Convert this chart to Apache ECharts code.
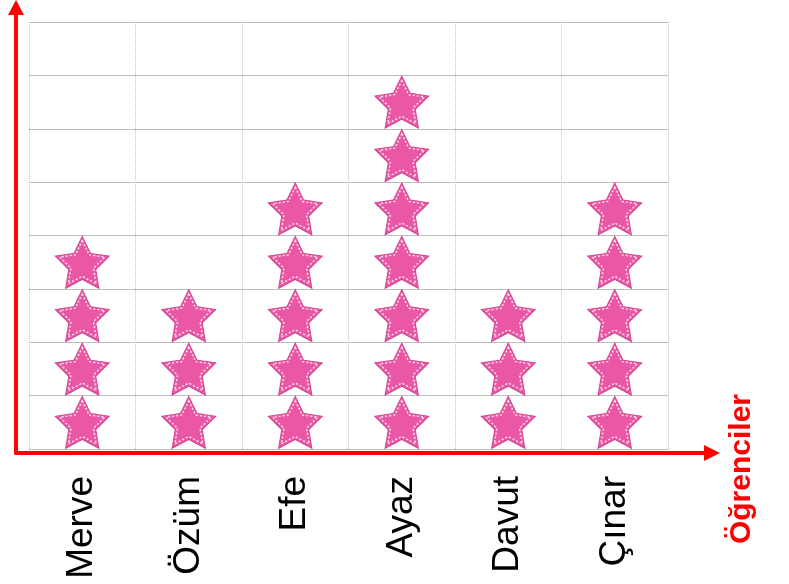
<!DOCTYPE html>
<html>
<head>
<meta charset="utf-8">
<script src="https://cdn.jsdelivr.net/npm/echarts@6/dist/echarts.min.js"></script>
<style>html,body{margin:0;padding:0;background:#fff}#c{width:789px;height:584px}</style>
</head>
<body>
<div id="c"></div>
<script>
const categories = ['Merve', 'Özüm', 'Efe', 'Ayaz', 'Davut', 'Çınar'];
const starCounts = [4, 3, 5, 7, 3, 5];
const yTicks = [0, 1, 2, 3, 4, 5, 6, 7, 8];
const axisTitle = 'Öğrenciler';

function starPath(inner) {
  const pts = [];
  for (let k = 0; k < 10; k++) {
    const a = (-90 + 36 * k) * Math.PI / 180;
    const r = k % 2 === 0 ? 50 : 50 * inner;
    pts.push((50 + r * Math.cos(a)).toFixed(2) + ' ' + (50 + r * Math.sin(a)).toFixed(2));
  }
  return 'path://M' + pts.join(' L') + ' Z';
}
const STAR = starPath(0.5);

const starData = [];
categories.forEach((c, i) => {
  for (let k = 0; k < starCounts[i]; k++) starData.push([c, k + 0.5]);
});

const chart = echarts.init(document.getElementById('c'));
chart.setOption({
  animation: false,
  grid: [
    { left: 29, right: 121, top: 22, bottom: 135 },
    { left: 16, right: 85, top: 15, bottom: 131 }
  ],
  xAxis: [
    {
      gridIndex: 0, type: 'category', data: categories,
      axisLine: { show: false }, axisTick: { show: false },
      axisLabel: { rotate: 90, margin: 27, fontSize: 37, color: '#000', fontFamily: 'Liberation Sans' },
      splitLine: { show: true, lineStyle: { color: '#c4c4c4', type: 'dotted', width: 1 } }
    },
    {
      gridIndex: 1, type: 'value', min: 0, max: 1,
      axisLabel: { show: false }, axisTick: { show: false }, splitLine: { show: false },
      axisLine: { show: true, lineStyle: { color: '#ff0000', width: 4 },
        symbol: ['none', 'triangle'], symbolSize: [16, 16], symbolOffset: [0, 8] }
    }
  ],
  yAxis: [
    {
      gridIndex: 0, type: 'value', min: yTicks[0], max: yTicks[yTicks.length - 1], interval: 1,
      axisLine: { show: false }, axisTick: { show: false }, axisLabel: { show: false },
      splitLine: { show: true, lineStyle: { color: '#bdbdbd', width: 1 } }
    },
    {
      gridIndex: 1, type: 'value', min: 0, max: 1,
      axisLabel: { show: false }, axisTick: { show: false }, splitLine: { show: false },
      axisLine: { show: true, lineStyle: { color: '#ff0000', width: 4 },
        symbol: ['none', 'triangle'], symbolSize: [16, 15], symbolOffset: [0, 7.5] }
    }
  ],
  series: [
    {
      type: 'scatter', xAxisIndex: 0, yAxisIndex: 0, data: starData,
      symbol: STAR, symbolSize: [56, 54], z: 2,
      itemStyle: { color: '#c8418a', opacity: 1 }
    },
    {
      type: 'scatter', xAxisIndex: 0, yAxisIndex: 0, data: starData,
      symbol: STAR, symbolSize: [53, 51], z: 3,
      itemStyle: { color: '#ea58a5', opacity: 1 }
    },
    {
      type: 'scatter', xAxisIndex: 0, yAxisIndex: 0, data: starData,
      symbol: STAR, symbolSize: [45, 43], z: 4,
      itemStyle: { color: 'rgba(0,0,0,0)', borderColor: '#ffe6f2', borderWidth: 1.4, borderType: [2, 2], opacity: 1 }
    }
  ],
  graphic: [
    {
      type: 'text', left: 727, top: 394, rotation: Math.PI / 2,
      style: { text: axisTitle, fill: '#ff0000', font: 'bold 30px "Liberation Sans"' }
    }
  ]
});
</script>
</body>
</html>
